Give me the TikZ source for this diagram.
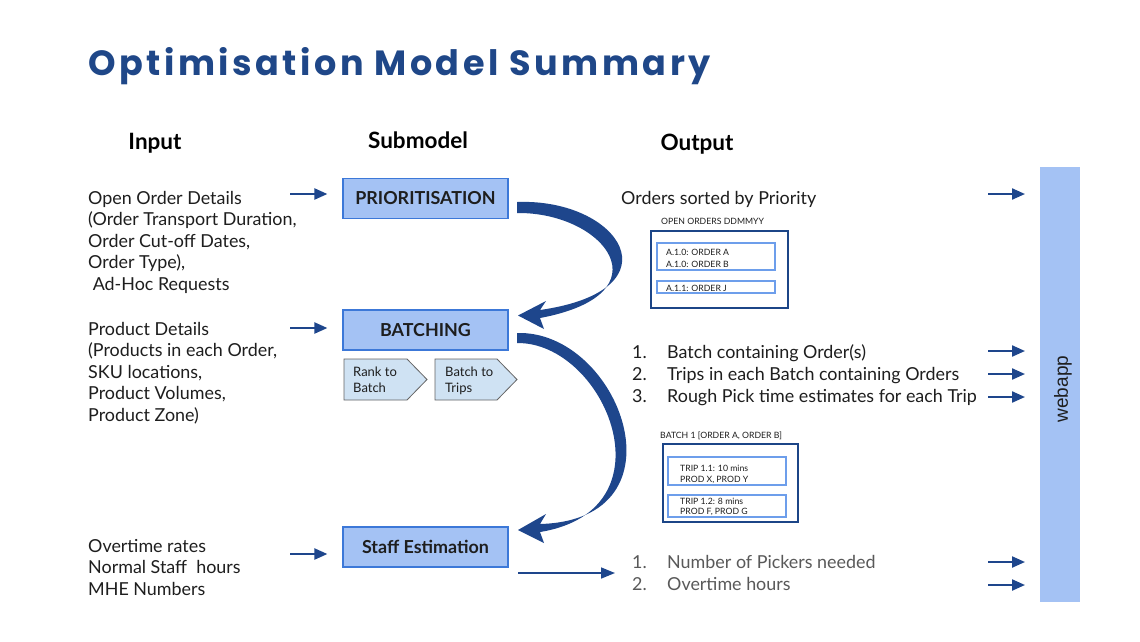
\documentclass[tikz,border=0pt]{standalone}
\usepackage{fontspec}
\setmainfont{Lato}
\newfontfamily\titlefont[LetterSpace=10]{Poppins}
\newfontfamily\webfont{Liberation Sans}
\usetikzlibrary{arrows.meta}
\definecolor{titleblue}{RGB}{31,71,136}
\definecolor{arrowblue}{RGB}{30,70,140}
\definecolor{boxfill}{RGB}{164,194,244}
\definecolor{boxdraw}{RGB}{60,120,216}
\definecolor{chevfill}{RGB}{207,226,243}
\definecolor{chevdraw}{RGB}{100,100,100}
\definecolor{outerblue}{RGB}{28,69,135}
\definecolor{innerblue}{RGB}{109,158,235}
\definecolor{txt}{RGB}{30,30,30}
\definecolor{graytxt}{RGB}{89,89,89}
\tikzset{
  body/.style={font=\fontsize{17.9}{21.5}\selectfont, text=txt, align=left, anchor=base west, inner sep=0pt},
  header/.style={font=\fontsize{22.5}{26}\selectfont\bfseries, text=black, anchor=base, inner sep=0pt},
  subbox/.style={draw=boxdraw, line width=1.2pt, fill=boxfill, minimum width=165pt, minimum height=40pt, font=\fontsize{17.9}{20}\selectfont\bfseries, text=txt, inner sep=0pt},
  tiny/.style={font=\fontsize{8.7}{11.5}\selectfont, text=txt, align=left, anchor=base west, inner sep=0pt},
  chevtxt/.style={font=\fontsize{13}{15.5}\selectfont, text=txt, align=left, anchor=base west, inner sep=0pt},
  smallarrow/.style={draw=arrowblue, line width=2.2pt, -{Triangle[length=13pt,width=11pt]}},
  bigarrow/.style={fill=arrowblue, draw=none},
}
\begin{document}
\begin{tikzpicture}[x=1pt,y=-1pt]
\useasboundingbox (0,0) rectangle (1140,641);
\fill[white] (0,0) rectangle (1140,641);

% title
\node[anchor=base west, inner sep=0pt, text=titleblue, font=\titlefont\fontsize{35}{40}\selectfont\bfseries] (title) at (88,75) {Optimisation Model Summary};

% headers
\node[header] (hin) at (155,149) {Input};
\node[header] (hsub) at (418,148) {Submodel};
\node[header] (hout) at (697,150) {Output};

% inputs (base anchor = last line)
\node[body] (in1) at (88,290) {Open Order Details\\(Order Transport Duration,\\Order Cut-off Dates,\\Order Type),\\\ Ad-Hoc Requests};
\node[body] (in2) at (88,421) {Product Details\\(Products in each Order,\\SKU locations,\\Product Volumes,\\Product Zone)};
\node[body] (in3) at (88,595) {Overtime rates\\Normal Staff\ \ hours\\MHE Numbers};

% submodel boxes
\node[subbox] (prio) at (425.5,198.5) {PRIORITISATION};
\node[subbox] (batch) at (425.5,330) {BATCHING};
\node[subbox] (staff) at (425.5,547) {Staff Estimation};

% chevrons
\draw[fill=chevfill, draw=chevdraw, line width=0.8pt] (344,359) -- (407,359) -- (427,379.5) -- (407,400) -- (344,400) -- cycle;
\draw[fill=chevfill, draw=chevdraw, line width=0.8pt] (435,359) -- (497,359) -- (517,379.5) -- (497,400) -- (435,400) -- cycle;
\node[chevtxt] (rank) at (353,392) {Rank to\\Batch};
\node[chevtxt] (btt) at (445,392) {Batch to\\Trips};

% input arrows
\coordinate (a1s) at (290,194);
\coordinate (a2s) at (290,328);
\coordinate (a3s) at (290,554);
\draw[smallarrow, shorten >=15pt] (a1s) -- (prio.west |- a1s);
\draw[smallarrow, shorten >=15pt] (a2s) -- (batch.west |- a2s);
\draw[smallarrow, shorten >=15pt] (a3s) -- (staff.west |- a3s);

% curved arrows
\fill[bigarrow] (517,202) .. controls (620,198) and (680,290) .. (540,310)
  -- (546,301) -- (518,315.5) -- (544,329) -- (540,318)
  .. controls (668,294) and (605,212) .. (517,213) -- cycle;
\fill[bigarrow] (517,333) .. controls (620,330) and (690,520) .. (540,524)
  -- (546,514) -- (518,530) -- (544,543) -- (540,532)
  .. controls (675,510) and (605,342) .. (517,343) -- cycle;

% staff to output arrow
\coordinate (sfrom) at (518,573);
\coordinate (sout) at (615,573);
\draw[draw=arrowblue, line width=1.6pt, -{Triangle[length=14pt,width=11pt]}] (sfrom) -- (sout);

% output 1
\node[body] (o1) at (621,204) {Orders sorted by Priority};
\node[tiny] (oolabel) at (661,224) {OPEN ORDERS DDMMYY};
\draw[outerblue, line width=2pt] (650.5,230.5) rectangle (788,307.5);
\draw[innerblue, line width=2pt] (657,243) rectangle (775,270);
\draw[innerblue, line width=2pt] (657,281) rectangle (775,293);
\node[tiny] (oa) at (666,255.5) {A.1.0: ORDER A};
\node[tiny] (ob) at (666,267) {A.1.0: ORDER B};
\node[tiny] (oj) at (666,291) {A.1.1: ORDER J};

% output 2
\node[body] (n1) at (632,358) {1.};
\node[body] (t1) at (667,358) {Batch containing Order(s)};
\node[body] (n2) at (632,380) {2.};
\node[body] (t2) at (667,380) {Trips in each Batch containing Orders};
\node[body] (n3) at (632,402) {3.};
\node[body] (t3) at (667,402) {Rough Pick time estimates for each Trip};

\node[tiny] (blabel) at (660,438) {BATCH 1 [ORDER A, ORDER B]};
\draw[outerblue, line width=2pt] (663,444) rectangle (798,522);
\draw[innerblue, line width=2pt] (668,457) rectangle (786,485);
\draw[innerblue, line width=2pt] (668,495) rectangle (786,517);
\node[tiny] (tr1) at (680,471) {TRIP 1.1: 10 mins};
\node[tiny] (tp1) at (680,482) {PROD X, PROD Y};
\node[tiny] (tr2) at (680,504) {TRIP 1.2: 8 mins};
\node[tiny] (tp2) at (680,514) {PROD F, PROD G};

% output 3
\node[body, text=graytxt] (m1) at (632,568) {1.};
\node[body, text=graytxt] (u1) at (667,568) {Number of Pickers needed};
\node[body, text=graytxt] (m2) at (632,590) {2.};
\node[body, text=graytxt] (u2) at (667,590) {Overtime hours};

% webapp
\node[fill=boxfill, minimum width=40pt, minimum height=435pt, inner sep=0pt, anchor=north west] (web) at (1040,167) {};
\node[rotate=90, font=\webfont\fontsize{19}{22}\selectfont, text=txt, inner sep=0pt] (webt) at (1063,389) {webapp};

% right arrows
\foreach \yy/\nm in {194/r1, 351/r2, 374/r3, 397/r4, 562/r5, 585/r6} {
  \coordinate (\nm) at (988,\yy);
  \draw[smallarrow, shorten >=15pt] (\nm) -- (web.west |- \nm);
}
\end{tikzpicture}
\end{document}
